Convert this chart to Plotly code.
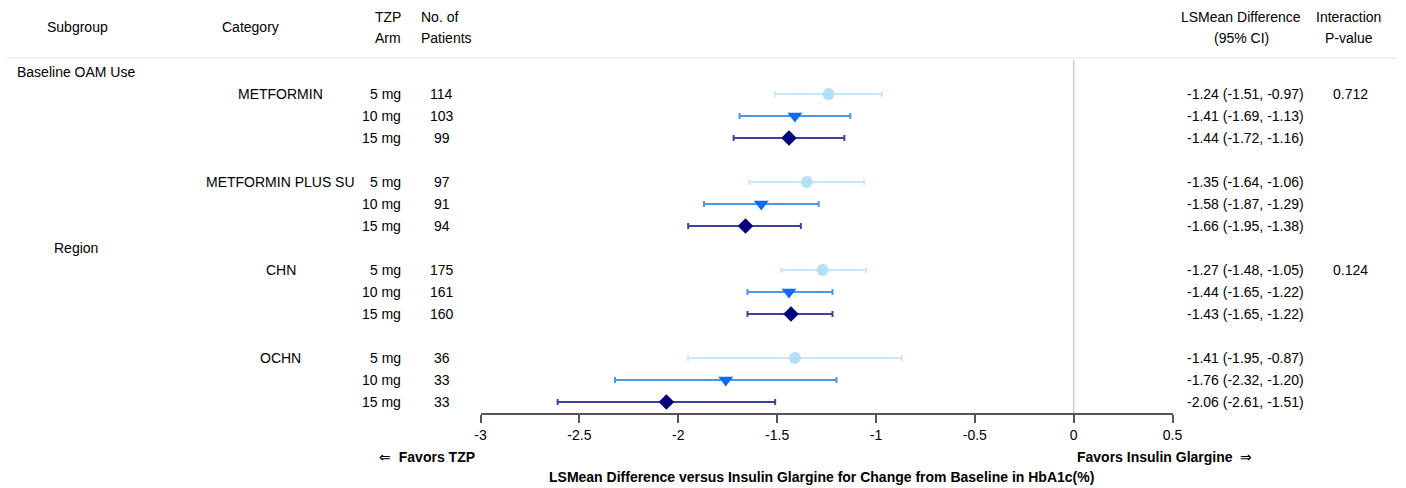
import plotly.graph_objects as go

# ---------------- data ----------------
subgroups = ["Baseline OAM Use", "Region"]
categories = ["METFORMIN", "METFORMIN PLUS SU", "CHN", "OCHN"]
category_subgroup = [0, 0, 1, 1]
arms = ["5 mg", "10 mg", "15 mg"]
n_patients = [[114, 103, 99], [97, 91, 94], [175, 161, 160], [36, 33, 33]]
lsmean = [[-1.24, -1.41, -1.44], [-1.35, -1.58, -1.66], [-1.27, -1.44, -1.43], [-1.41, -1.76, -2.06]]
ci_low = [[-1.51, -1.69, -1.72], [-1.64, -1.87, -1.95], [-1.48, -1.65, -1.65], [-1.95, -2.32, -2.61]]
ci_high = [[-0.97, -1.13, -1.16], [-1.06, -1.29, -1.38], [-1.05, -1.22, -1.22], [-0.87, -1.20, -1.51]]
p_values = ["0.712", "0.124"]
tick_vals = [-3, -2.5, -2, -1.5, -1, -0.5, 0, 0.5]
tick_text = ["-3", "-2.5", "-2", "-1.5", "-1", "-0.5", "0", "0.5"]

# ---------------- styling ----------------
W, H = 1406, 488
FONT = "Liberation Sans, Arial, Helvetica, sans-serif"
FS = 14
marker_colors = ["#B3E0F7", "#0A6CF5", "#000080"]
bar_colors = ["#C6E8F8", "#4C95EE", "#40409E"]
symbols = ["circle", "triangle-down", "diamond"]
sizes = [12, 13, 12]

ROW0 = 72.0
ROWH = 22.0
AXIS_Y = 413.0
TOP_Y = 58.0


def px(x):
    return x / W


def py(y):
    return 1 - y / H


# build row layout
r = 0
prev_sub = None
row_sub = {}
row_cat = {}
row_arm = []
for ci, cat in enumerate(categories):
    s = category_subgroup[ci]
    if s != prev_sub:
        row_sub[s] = r
        r += 1
        prev_sub = s
    elif ci > 0:
        r += 1  # blank spacer row
    row_cat[ci] = r
    for ai in range(len(arms)):
        row_arm.append((ci, ai, r))
        r += 1

fig = go.Figure()

for ai, arm in enumerate(arms):
    xs, ys, ep, em = [], [], [], []
    for (ci, a, rr) in row_arm:
        if a != ai:
            continue
        v = lsmean[ci][ai]
        xs.append(v)
        ys.append(rr)
        ep.append(round(ci_high[ci][ai] - v, 4))
        em.append(round(v - ci_low[ci][ai], 4))
    fig.add_trace(go.Scatter(
        x=xs, y=ys, mode="markers", name=arm, showlegend=False,
        marker=dict(symbol=symbols[ai], size=sizes[ai], color=marker_colors[ai], line=dict(width=0)),
        error_x=dict(type="data", symmetric=False, array=ep, arrayminus=em,
                     color=bar_colors[ai], thickness=2, width=3),
    ))

bottom_row = (AXIS_Y - ROW0) / ROWH
top_row = (TOP_Y - ROW0) / ROWH

fig.update_layout(
    width=W, height=H,
    margin=dict(l=0, r=0, t=0, b=0),
    paper_bgcolor="white", plot_bgcolor="white",
    font=dict(family=FONT, size=FS, color="#000"),
    xaxis=dict(domain=[px(480), px(1180)], range=[-3, 0.5], tickvals=tick_vals, ticktext=tick_text,
               showgrid=False, zeroline=False, showline=True, linecolor="#555555", linewidth=2,
               ticks="outside", ticklen=8, tickwidth=2, tickcolor="#555555",
               tickfont=dict(family=FONT, size=FS, color="#000"), fixedrange=True),
    yaxis=dict(domain=[py(AXIS_Y), py(TOP_Y)], range=[bottom_row, top_row], visible=False,
               showgrid=False, zeroline=False, fixedrange=True),
)

# reference line at 0
fig.add_shape(type="line", xref="x", yref="paper", x0=0, x1=0, y0=py(AXIS_Y), y1=py(60),
              line=dict(color="#CCCCCC", width=1.5), layer="below")
# header separator
fig.add_shape(type="line", xref="paper", yref="paper", x0=0, x1=1, y0=py(58), y1=py(58),
              line=dict(color="#EEEEEE", width=1.5))


def ann(text, x, y, xanchor="center", bold=False, size=FS):
    fig.add_annotation(text=f"<b>{text}</b>" if bold else text, x=px(x), y=py(y),
                       xref="paper", yref="paper", xanchor=xanchor, yanchor="middle",
                       showarrow=False, font=dict(family=FONT, size=size, color="#000"))


def rowy(rr):
    return ROW0 + ROWH * rr


# headers
ann("Subgroup", 72, 27)
ann("Category", 247, 27)
ann("TZP", 402, 17, "right")
ann("Arm", 402, 38, "right")
ann("No. of", 418, 17, "left")
ann("Patients", 418, 38, "left")
ann("LSMean Difference", 1249, 17)
ann("(95% CI)", 1250, 38)
ann("Interaction", 1358, 17)
ann("P-value", 1358, 38)

# table body
for s, rr in row_sub.items():
    ann(subgroups[s], 71, rowy(rr))
first_cat_of_sub = {}
for ci in range(len(categories)):
    ann(categories[ci], 278, rowy(row_cat[ci]))
    s = category_subgroup[ci]
    if s not in first_cat_of_sub:
        first_cat_of_sub[s] = ci
        ann(p_values[s], 1360, rowy(row_cat[ci]))
for (ci, ai, rr) in row_arm:
    ann(arms[ai], 402, rowy(rr), "right")
    ann(str(n_patients[ci][ai]), 441, rowy(rr))
    ann(f"{lsmean[ci][ai]:.2f} ({ci_low[ci][ai]:.2f}, {ci_high[ci][ai]:.2f})", 1193, rowy(rr), "left")

# axis annotations
ann("\u21d0  <b>Favors TZP</b>", 426, 457)
ann("<b>Favors Insulin Glargine</b>  \u21d2", 1172, 457)
ann("LSMean Difference versus Insulin Glargine for Change from Baseline in HbA1c(%)", 825, 477, bold=True)

fig.write_html(
    "out.html",
    config={"displayModeBar": False, "staticPlot": True},
    post_script="document.body.style.margin='0px';document.body.style.overflow='hidden';"
                "document.documentElement.style.overflow='hidden';",
)
